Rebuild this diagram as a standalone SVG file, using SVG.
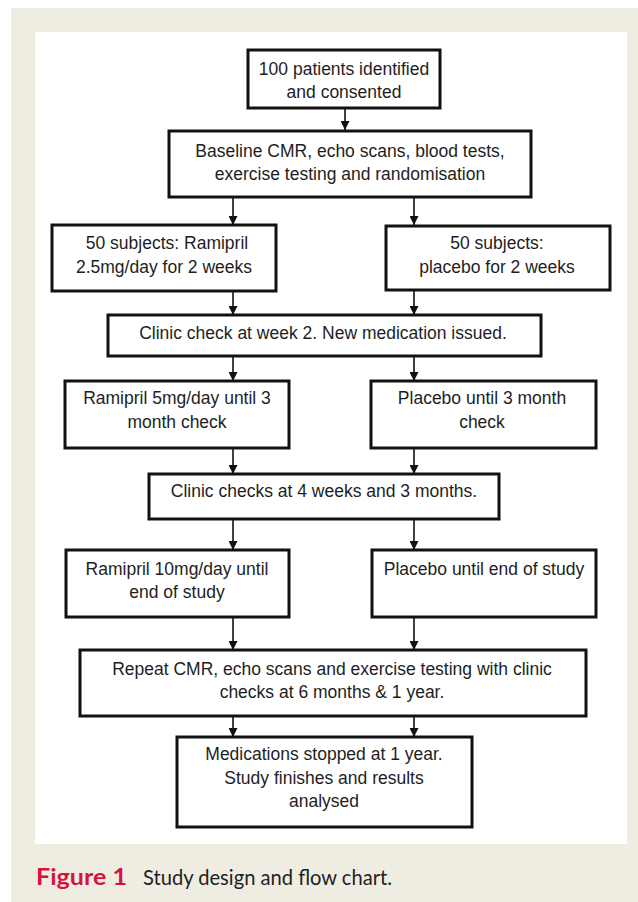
<svg xmlns="http://www.w3.org/2000/svg" width="638" height="902" viewBox="0 0 638 902">
<defs>
<style>
.box{fill:#fff;stroke:#111;stroke-width:3}
.t{font-family:"Liberation Sans",Arial,sans-serif;font-size:17.5px;fill:#1e1e1e;text-anchor:middle}
.c{fill:none;stroke:#111;stroke-width:1.6}
.cap{font-family:Lato,"Open Sans",sans-serif}
</style>
<marker id="ah" viewBox="0 0 10 10" refX="10" refY="5" markerWidth="9" markerHeight="9" markerUnits="userSpaceOnUse" orient="auto">
<path d="M0,0 L10,5 L0,10 Z" fill="#111"/>
</marker>
</defs>
<rect x="0" y="0" width="638" height="902" fill="#fff"/>
<rect x="11" y="8" width="627" height="894" fill="#efede2"/>
<rect x="35" y="32" width="592" height="812" fill="#fff"/>

<g id="connectors">
<line class="c" x1="345" y1="108" x2="345" y2="130" marker-end="url(#ah)"/>
<line class="c" x1="233" y1="197" x2="233" y2="225" marker-end="url(#ah)"/>
<line class="c" x1="414" y1="197" x2="414" y2="225" marker-end="url(#ah)"/>
<line class="c" x1="233" y1="291" x2="233" y2="315" marker-end="url(#ah)"/>
<line class="c" x1="414" y1="290" x2="414" y2="315" marker-end="url(#ah)"/>
<line class="c" x1="233" y1="356" x2="233" y2="381" marker-end="url(#ah)"/>
<line class="c" x1="414" y1="356" x2="414" y2="381" marker-end="url(#ah)"/>
<line class="c" x1="233" y1="448" x2="233" y2="474" marker-end="url(#ah)"/>
<line class="c" x1="414" y1="448" x2="414" y2="474" marker-end="url(#ah)"/>
<line class="c" x1="233" y1="519" x2="233" y2="550" marker-end="url(#ah)"/>
<line class="c" x1="414" y1="519" x2="414" y2="550" marker-end="url(#ah)"/>
<line class="c" x1="233" y1="617" x2="233" y2="650" marker-end="url(#ah)"/>
<line class="c" x1="414" y1="617" x2="414" y2="650" marker-end="url(#ah)"/>
<line class="c" x1="233" y1="716" x2="233" y2="737" marker-end="url(#ah)"/>
<line class="c" x1="414" y1="716" x2="414" y2="737" marker-end="url(#ah)"/>
</g>

<g id="n1">
<rect class="box" x="248" y="50" width="192" height="58"/>
<text class="t" x="344" y="75">100 patients identified</text>
<text class="t" x="344" y="98">and consented</text>
</g>
<g id="n2">
<rect class="box" x="169" y="131" width="362" height="66"/>
<text class="t" x="350" y="157">Baseline CMR, echo scans, blood tests,</text>
<text class="t" x="350" y="180">exercise testing and randomisation</text>
</g>
<g id="n3">
<rect class="box" x="52" y="225" width="224" height="66"/>
<text class="t" x="167" y="249">50 subjects: Ramipril</text>
<text class="t" x="164" y="273">2.5mg/day for 2 weeks</text>
</g>
<g id="n4">
<rect class="box" x="386" y="226" width="224" height="64"/>
<text class="t" x="497" y="249">50 subjects:</text>
<text class="t" x="497" y="273">placebo for 2 weeks</text>
</g>
<g id="n5">
<rect class="box" x="108" y="315" width="433" height="41"/>
<text class="t" x="323" y="339">Clinic check at week 2. New medication issued.</text>
</g>
<g id="n6">
<rect class="box" x="65" y="381" width="224" height="67"/>
<text class="t" x="177" y="404">Ramipril 5mg/day until 3</text>
<text class="t" x="177" y="428">month check</text>
</g>
<g id="n7">
<rect class="box" x="371" y="381" width="225" height="67"/>
<text class="t" x="482" y="404">Placebo until 3 month</text>
<text class="t" x="482" y="428">check</text>
</g>
<g id="n8">
<rect class="box" x="149" y="474" width="350" height="45"/>
<text class="t" x="324" y="497">Clinic checks at 4 weeks and 3 months.</text>
</g>
<g id="n9">
<rect class="box" x="66" y="550" width="223" height="67"/>
<text class="t" x="177" y="575">Ramipril 10mg/day until</text>
<text class="t" x="177" y="598">end of study</text>
</g>
<g id="n10">
<rect class="box" x="372" y="550" width="224" height="67"/>
<text class="t" x="484" y="575">Placebo until end of study</text>
</g>
<g id="n11">
<rect class="box" x="80" y="650" width="506" height="66"/>
<text class="t" x="332" y="675">Repeat CMR, echo scans and exercise testing with clinic</text>
<text class="t" x="332" y="698">checks at 6 months &amp; 1 year.</text>
</g>
<g id="n12">
<rect class="box" x="177" y="737" width="295" height="90"/>
<text class="t" x="324" y="760">Medications stopped at 1 year.</text>
<text class="t" x="324" y="784">Study finishes and results</text>
<text class="t" x="324" y="807">analysed</text>
</g>

<text x="36" y="885" class="cap" font-size="23" font-weight="bold" fill="#d4143f" textLength="91" lengthAdjust="spacingAndGlyphs">Figure 1</text>
<text x="143" y="885" class="cap" font-size="21" fill="#222" textLength="249" lengthAdjust="spacingAndGlyphs">Study design and flow chart.</text>
</svg>
